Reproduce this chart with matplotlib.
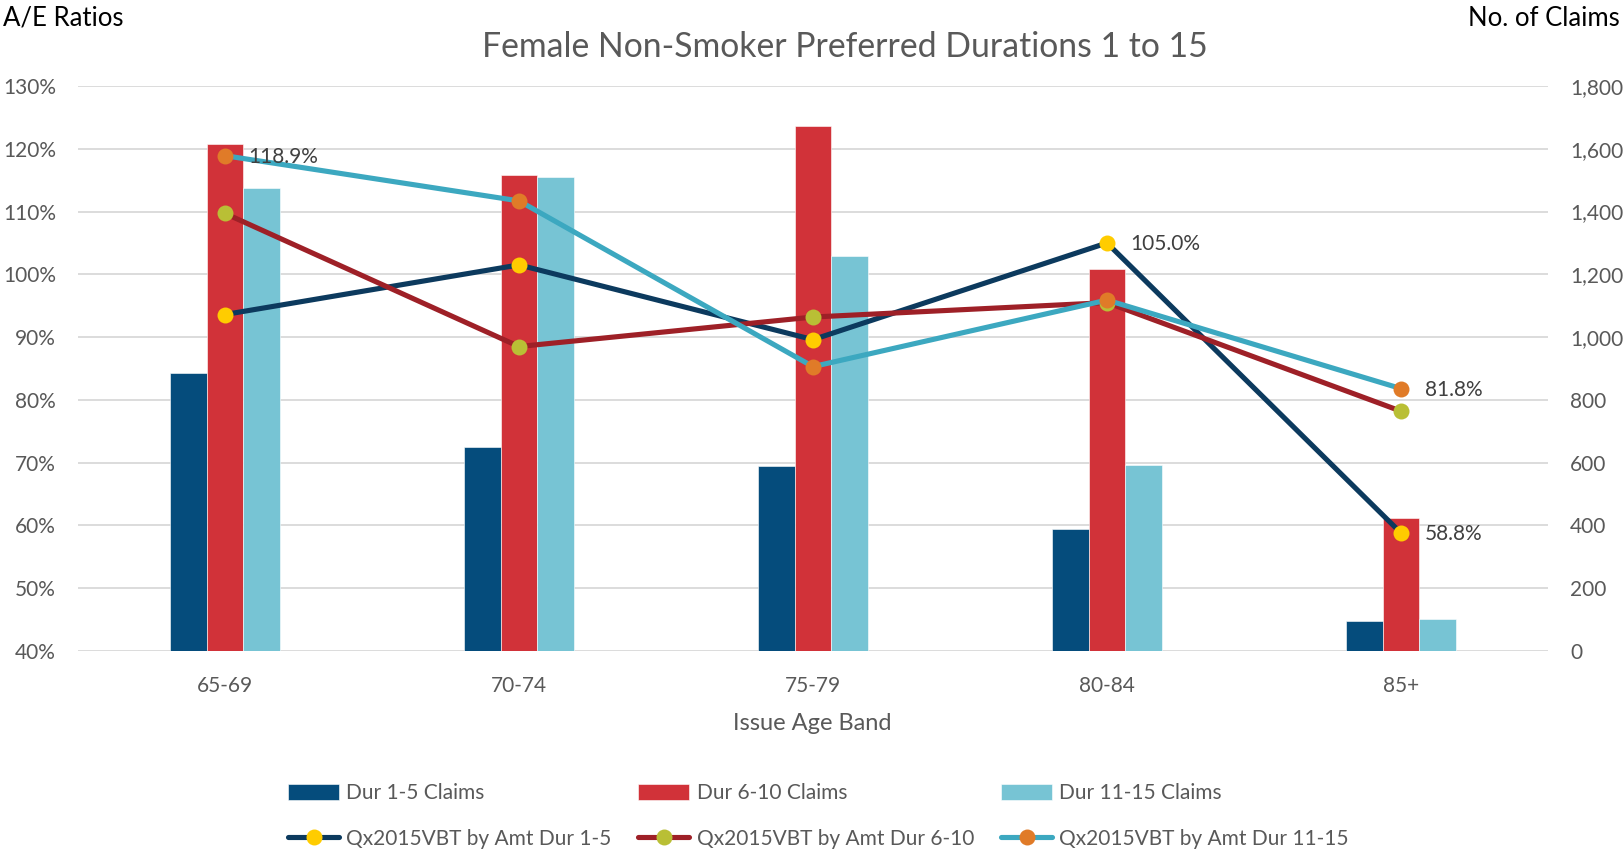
import numpy as np
import matplotlib
matplotlib.use("Agg")
import matplotlib.pyplot as plt
from matplotlib.ticker import FuncFormatter, MultipleLocator

plt.rcParams['font.family'] = ['Lato', 'DejaVu Sans']

# ---------------- data ----------------
categories = ["65-69", "70-74", "75-79", "80-84", "85+"]

claims_dur_1_5 = [885, 650, 590, 390, 96]
claims_dur_6_10 = [1615, 1517, 1672, 1217, 425]
claims_dur_11_15 = [1474, 1510, 1259, 594, 102]

ae_dur_1_5 = [93.6, 101.5, 89.6, 105.0, 58.8]
ae_dur_6_10 = [109.7, 88.5, 93.2, 95.5, 78.2]
ae_dur_11_15 = [118.9, 111.7, 85.3, 95.9, 81.8]

bar_labels = ["Dur 1-5 Claims", "Dur 6-10 Claims", "Dur 11-15 Claims"]
line_labels = ["Qx2015VBT by Amt Dur 1-5", "Qx2015VBT by Amt Dur 6-10",
               "Qx2015VBT by Amt Dur 11-15"]

# which points carry a data label: (series index, category index)
labelled_points = [(2, 0), (0, 3), (2, 4), (0, 4)]

title = "Female Non-Smoker Preferred Durations 1 to 15"
left_axis_title = "A/E Ratios"
right_axis_title = "No. of Claims"
x_axis_title = "Issue Age Band"

# ---------------- style ----------------
bar_colors = ["#054C7C", "#D13239", "#77C4D4"]
line_colors = ["#0C3A5E", "#9E2027", "#3CA8C0"]
marker_colors = ["#FFCC00", "#B9BF35", "#E07B28"]
grid_color = "#D9D9D9"
text_gray = "#595959"

W, H = 1623, 850
fig = plt.figure(figsize=(W / 100, H / 100), dpi=100)
fig.patch.set_facecolor("white")

rect = [78 / W, 1 - 651 / H, 1470 / W, 565 / H]
ax = fig.add_axes(rect)          # lines, left axis
ax2 = ax.twinx()                 # bars, right axis
ax.set_zorder(ax2.get_zorder() + 1)
ax.patch.set_visible(False)

x = np.arange(len(categories))
bw = 0.124

bars_data = [claims_dur_1_5, claims_dur_6_10, claims_dur_11_15]
bar_handles = []
for i, vals in enumerate(bars_data):
    b = ax2.bar(x + (i - 1) * bw, vals, width=bw, color=bar_colors[i],
                edgecolor="white", linewidth=0.4, label=bar_labels[i], zorder=2)
    bar_handles.append(b)

ax2.set_ylim(0, 1800)
ax2.yaxis.set_major_locator(MultipleLocator(200))
ax2.yaxis.set_major_formatter(FuncFormatter(lambda v, p: f"{v:,.0f}"))
ax2.grid(axis="y", color=grid_color, linewidth=1.3)
ax2.set_axisbelow(True)

lines_data = [ae_dur_1_5, ae_dur_6_10, ae_dur_11_15]
line_handles = []
for i, vals in enumerate(lines_data):
    (ln,) = ax.plot(x, vals, color=line_colors[i], linewidth=3.7,
                    marker="o", markersize=11.5, markerfacecolor=marker_colors[i],
                    markeredgecolor=marker_colors[i], markeredgewidth=0,
                    solid_joinstyle="round", solid_capstyle="round",
                    label=line_labels[i], zorder=3)
    line_handles.append(ln)

for si, ci in labelled_points:
    v = lines_data[si][ci]
    ax.annotate(f"{v:.1f}%", (x[ci], v), xytext=(17, -1),
                textcoords="offset points", ha="left", va="center",
                fontsize=15, color="#404040", zorder=5)

ax.set_ylim(40, 130)
ax.yaxis.set_major_locator(MultipleLocator(10))
ax.yaxis.set_major_formatter(FuncFormatter(lambda v, p: f"{v:.0f}%"))
ax.set_xlim(-0.5, len(categories) - 0.5)
ax.set_xticks(x)
ax.set_xticklabels(categories)

for a in (ax, ax2):
    for s in a.spines.values():
        s.set_visible(False)
    a.tick_params(length=0, labelsize=15, labelcolor=text_gray)
ax.tick_params(axis="y", pad=16)
ax2.tick_params(axis="y", pad=16)
ax.tick_params(axis="x", pad=18)

# texts
fig.text(845 / W, 1 - 47 / H, title, ha="center", va="center",
         fontsize=24.3, color=text_gray)
fig.text(3 / W, 1 - 18 / H, left_axis_title, ha="left", va="center",
         fontsize=18.5, color="black")
fig.text(1620 / W, 1 - 18 / H, right_axis_title, ha="right", va="center",
         fontsize=18.5, color="black")
fig.text(812 / W, 1 - 723 / H, x_axis_title, ha="center", va="center",
         fontsize=17, color=text_gray)

handles = []
labels = []
for i in range(3):
    handles += [bar_handles[i], line_handles[i]]
    labels += [bar_labels[i], line_labels[i]]

leg = fig.legend(handles, labels, ncol=3, loc="upper left",
                 bbox_to_anchor=(288 / W, 1 - 783 / H), frameon=False,
                 fontsize=15, handlelength=2.45, handleheight=0.8,
                 handletextpad=0.34, columnspacing=1.3, labelspacing=1.25,
                 borderpad=0, borderaxespad=0)
for t in leg.get_texts():
    t.set_color(text_gray)

fig.savefig("out.png", dpi=100, facecolor="white")
